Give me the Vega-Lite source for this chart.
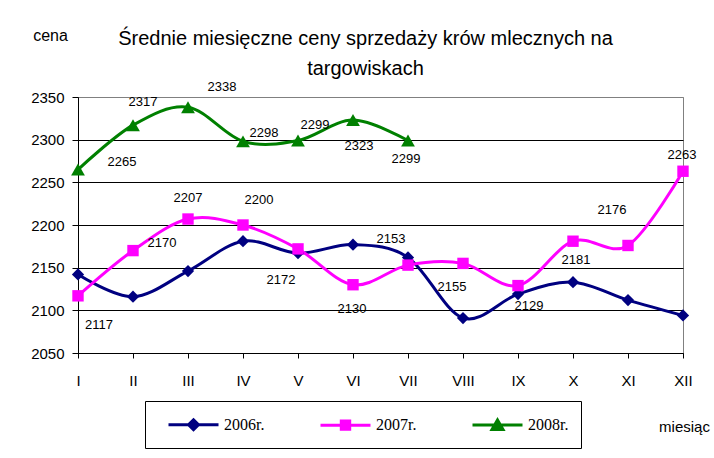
{
  "$schema": "https://vega.github.io/schema/vega-lite/v6.json",
  "width": 605,
  "height": 256,
  "autosize": {"type": "none"},
  "padding": {"left": 78, "top": 97, "right": 31, "bottom": 105},
  "background": "white",
  "title": {
    "text": ["Średnie miesięczne ceny sprzedaży krów  mlecznych na", "targowiskach"],
    "font": "Liberation Sans",
    "fontSize": 20,
    "fontWeight": "normal",
    "lineHeight": 30,
    "anchor": "middle",
    "dx": -15,
    "offset": -52,
    "color": "black"
  },
  "data": {
    "values": [
      {"m": "I", "year": "2006r.", "v": 2142},
      {"m": "II", "year": "2006r.", "v": 2116},
      {"m": "III", "year": "2006r.", "v": 2146},
      {"m": "IV", "year": "2006r.", "v": 2181},
      {"m": "V", "year": "2006r.", "v": 2167},
      {"m": "VI", "year": "2006r.", "v": 2177},
      {"m": "VII", "year": "2006r.", "v": 2162},
      {"m": "VIII", "year": "2006r.", "v": 2091},
      {"m": "IX", "year": "2006r.", "v": 2119},
      {"m": "X", "year": "2006r.", "v": 2133},
      {"m": "XI", "year": "2006r.", "v": 2112},
      {"m": "XII", "year": "2006r.", "v": 2094},
      {"m": "I", "year": "2007r.", "v": 2117},
      {"m": "II", "year": "2007r.", "v": 2170},
      {"m": "III", "year": "2007r.", "v": 2207},
      {"m": "IV", "year": "2007r.", "v": 2200},
      {"m": "V", "year": "2007r.", "v": 2172},
      {"m": "VI", "year": "2007r.", "v": 2130},
      {"m": "VII", "year": "2007r.", "v": 2153},
      {"m": "VIII", "year": "2007r.", "v": 2155},
      {"m": "IX", "year": "2007r.", "v": 2129},
      {"m": "X", "year": "2007r.", "v": 2181},
      {"m": "XI", "year": "2007r.", "v": 2176},
      {"m": "XII", "year": "2007r.", "v": 2263},
      {"m": "I", "year": "2008r.", "v": 2265},
      {"m": "II", "year": "2008r.", "v": 2317},
      {"m": "III", "year": "2008r.", "v": 2338},
      {"m": "IV", "year": "2008r.", "v": 2298},
      {"m": "V", "year": "2008r.", "v": 2299},
      {"m": "VI", "year": "2008r.", "v": 2323},
      {"m": "VII", "year": "2008r.", "v": 2299}
    ]
  },
  "encoding": {
    "x": {
      "field": "m",
      "type": "ordinal",
      "sort": ["I", "II", "III", "IV", "V", "VI", "VII", "VIII", "IX", "X", "XI", "XII"],
      "scale": {"type": "point", "padding": 0},
      "axis": {
        "title": "miesiąc",
        "titleFont": "Liberation Sans",
        "titleFontSize": 15,
        "titleFontWeight": "normal",
        "titleColor": "black",
        "titleX": 606,
        "titleY": 78,
        "titleAlign": "center",
        "titleBaseline": "alphabetic",
        "labelAngle": 0,
        "labelFont": "Liberation Sans",
        "labelFontSize": 15,
        "labelColor": "black",
        "labelPadding": 15,
        "tickSize": 5,
        "tickColor": "black",
        "domainColor": "black",
        "grid": false
      }
    },
    "y": {
      "field": "v",
      "type": "quantitative",
      "scale": {"domain": [2050, 2350], "nice": false, "zero": false},
      "axis": {
        "values": [2050, 2100, 2150, 2200, 2250, 2300, 2350],
        "format": "d",
        "title": "cena",
        "titleAngle": 0,
        "titleFont": "Liberation Sans",
        "titleFontSize": 16,
        "titleFontWeight": "normal",
        "titleColor": "black",
        "titleX": -28,
        "titleY": -57,
        "titleAlign": "center",
        "titleBaseline": "alphabetic",
        "labelFont": "Liberation Sans",
        "labelFontSize": 15,
        "labelColor": "black",
        "labelPadding": 8,
        "tickSize": 6,
        "tickColor": "black",
        "domainColor": "black",
        "grid": true,
        "gridColor": {"condition": {"test": "datum.value == 2350", "value": "#808080"}, "value": "black"},
        "gridOpacity": 1
      }
    }
  },
  "layer": [
    {
      "mark": {"type": "line", "interpolate": "cardinal", "strokeWidth": 3},
      "encoding": {
        "color": {
          "field": "year",
          "type": "nominal",
          "scale": {"domain": ["2006r.", "2007r.", "2008r."], "range": ["#000080", "#FF00FF", "#008000"]},
          "legend": {
            "title": null,
            "orient": "none",
            "direction": "horizontal",
            "legendX": 67,
            "legendY": 304,
            "strokeColor": "black",
            "fillColor": "white",
            "padding": 12,
            "symbolSize": 400,
            "symbolStrokeWidth": 3,
            "labelFont": "Liberation Serif",
            "labelFontSize": 16,
            "labelColor": "black",
            "labelOffset": 44,
            "columnPadding": 44,
            "encode": {
              "symbols": {
                "update": {
                  "shape": {"signal": "datum.value === '2006r.' ? 'M0,0L5,0M2.5,-0.5L3,0L2.5,0.5L2,0Z' : (datum.value === '2007r.' ? 'M0,0L5,0M2.08,-0.42L2.92,-0.42L2.92,0.42L2.08,0.42Z' : 'M0,0L5,0M2.5,-0.5L3.05,0.45L1.95,0.45Z')"},
                  "fill": {"scale": "color", "field": "value"},
                  "stroke": {"scale": "color", "field": "value"},
                  "fillOpacity": {"value": 1},
                  "opacity": {"value": 1}
                }
              }
            }
          }
        }
      }
    },
    {"transform": [{"filter": "datum.year == '2006r.'"}], "mark": {"type": "point", "shape": "diamond", "filled": true, "opacity": 1, "size": 150}, "encoding": {"color": {"field": "year", "type": "nominal"}}},
    {"transform": [{"filter": "datum.year == '2007r.'"}], "mark": {"type": "point", "shape": "square", "filled": true, "opacity": 1, "size": 130}, "encoding": {"color": {"field": "year", "type": "nominal"}}},
    {"transform": [{"filter": "datum.year == '2008r.'"}], "mark": {"type": "point", "shape": "triangle-up", "filled": true, "opacity": 1, "size": 190}, "encoding": {"color": {"field": "year", "type": "nominal"}}},
    {"transform": [{"filter": "datum.year == '2008r.' && datum.m == 'I'"}], "mark": {"type": "text", "dx": 44, "dy": -8}, "encoding": {"text": {"field": "v"}}},
    {"transform": [{"filter": "datum.year == '2008r.' && datum.m == 'II'"}], "mark": {"type": "text", "dx": 10, "dy": -23}, "encoding": {"text": {"field": "v"}}},
    {"transform": [{"filter": "datum.year == '2008r.' && datum.m == 'III'"}], "mark": {"type": "text", "dx": 34, "dy": -20}, "encoding": {"text": {"field": "v"}}},
    {"transform": [{"filter": "datum.year == '2008r.' && datum.m == 'IV'"}], "mark": {"type": "text", "dx": 21, "dy": -8}, "encoding": {"text": {"field": "v"}}},
    {"transform": [{"filter": "datum.year == '2008r.' && datum.m == 'V'"}], "mark": {"type": "text", "dx": 17, "dy": -16}, "encoding": {"text": {"field": "v"}}},
    {"transform": [{"filter": "datum.year == '2008r.' && datum.m == 'VI'"}], "mark": {"type": "text", "dx": 6, "dy": 26}, "encoding": {"text": {"field": "v"}}},
    {"transform": [{"filter": "datum.year == '2008r.' && datum.m == 'VII'"}], "mark": {"type": "text", "dx": -2, "dy": 18}, "encoding": {"text": {"field": "v"}}},
    {"transform": [{"filter": "datum.year == '2007r.' && datum.m == 'I'"}], "mark": {"type": "text", "dx": 21, "dy": 29}, "encoding": {"text": {"field": "v"}}},
    {"transform": [{"filter": "datum.year == '2007r.' && datum.m == 'II'"}], "mark": {"type": "text", "dx": 29, "dy": -8}, "encoding": {"text": {"field": "v"}}},
    {"transform": [{"filter": "datum.year == '2007r.' && datum.m == 'III'"}], "mark": {"type": "text", "dx": 0, "dy": -21}, "encoding": {"text": {"field": "v"}}},
    {"transform": [{"filter": "datum.year == '2007r.' && datum.m == 'IV'"}], "mark": {"type": "text", "dx": 16, "dy": -25}, "encoding": {"text": {"field": "v"}}},
    {"transform": [{"filter": "datum.year == '2007r.' && datum.m == 'V'"}], "mark": {"type": "text", "dx": -17, "dy": 31}, "encoding": {"text": {"field": "v"}}},
    {"transform": [{"filter": "datum.year == '2007r.' && datum.m == 'VI'"}], "mark": {"type": "text", "dx": -1, "dy": 24}, "encoding": {"text": {"field": "v"}}},
    {"transform": [{"filter": "datum.year == '2007r.' && datum.m == 'VII'"}], "mark": {"type": "text", "dx": -17, "dy": -26}, "encoding": {"text": {"field": "v"}}},
    {"transform": [{"filter": "datum.year == '2007r.' && datum.m == 'VIII'"}], "mark": {"type": "text", "dx": -11, "dy": 24}, "encoding": {"text": {"field": "v"}}},
    {"transform": [{"filter": "datum.year == '2007r.' && datum.m == 'IX'"}], "mark": {"type": "text", "dx": 11, "dy": 20}, "encoding": {"text": {"field": "v"}}},
    {"transform": [{"filter": "datum.year == '2007r.' && datum.m == 'X'"}], "mark": {"type": "text", "dx": 3, "dy": 19}, "encoding": {"text": {"field": "v"}}},
    {"transform": [{"filter": "datum.year == '2007r.' && datum.m == 'XI'"}], "mark": {"type": "text", "dx": -16, "dy": -35}, "encoding": {"text": {"field": "v"}}},
    {"transform": [{"filter": "datum.year == '2007r.' && datum.m == 'XII'"}], "mark": {"type": "text", "dx": -1, "dy": -16}, "encoding": {"text": {"field": "v"}}}
  ],
  "config": {
    "view": {"stroke": "#808080", "strokeWidth": 1},
    "text": {"font": "Liberation Sans", "fontSize": 13, "color": "black", "align": "center", "baseline": "middle"}
  }
}
